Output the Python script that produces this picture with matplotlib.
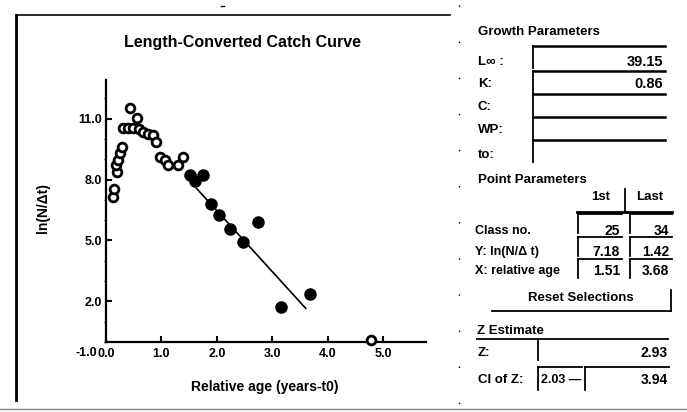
import matplotlib
matplotlib.use("Agg")
import matplotlib.pyplot as plt
from matplotlib.lines import Line2D

# ===============================
# DATA
# ===============================
# points not used in the regression (open circles)
open_age = [0.12, 0.15, 0.19, 0.18, 0.22, 0.26, 0.28, 0.31, 0.40, 0.49,
            0.43, 0.55, 0.60, 0.67, 0.76, 0.85, 0.91, 0.97, 1.06, 1.12,
            1.30, 1.39, 4.78]
open_lnn = [7.16, 7.54, 8.39, 8.72, 8.97, 9.30, 9.62, 10.53, 10.53, 10.53,
            11.51, 11.05, 10.49, 10.33, 10.23, 10.20, 9.87, 9.13, 8.97, 8.72,
            8.72, 9.13, 0.08]

# selected points, class 25..34 (filled circles)
sel_age = [1.51, 1.60, 1.75, 1.90, 2.04, 2.23, 2.47, 2.74, 3.15, 3.68]
sel_lnn = [8.23, 7.95, 8.23, 6.80, 6.24, 5.55, 4.94, 5.93, 1.74, 2.36]

# regression line end points
fit_age = [1.63, 3.60]
fit_lnn = [7.57, 1.66]

x_ticks = [0, 1, 2, 3, 4, 5]
x_ticklabels = ["0.0", "1.0", "2.0", "3.0", "4.0", "5.0"]
y_ticks = [2, 5, 8, 11]
y_ticklabels = ["2.0", "5.0", "8.0", "11.0"]
y_bottom_label = "-1.0"

# side panel values
growth_labels = ["L\u221e :", "K:", "C:", "WP:", "to:"]
growth_values = ["39.15", "0.86", "", "", ""]
point_labels = ["Class no.", "Y: ln(N/\u0394 t)", "X: relative age"]
first_values = ["25", "7.18", "1.51"]
last_values = ["34", "1.42", "3.68"]
z_value = "2.93"
ci_low = "2.03"
ci_high = "3.94"

FONT = "Liberation Sans"
W, H = 687, 412


def fx(x):
    return x / W


def fy(y):
    return 1 - y / H


def hline(fig, x0, x1, y, lw=1.5, color="black", **kw):
    fig.add_artist(Line2D([fx(x0), fx(x1)], [fy(y), fy(y)], lw=lw, color=color, **kw))


def vline(fig, x, y0, y1, lw=1.5, color="black", **kw):
    fig.add_artist(Line2D([fx(x), fx(x)], [fy(y0), fy(y1)], lw=lw, color=color, **kw))


def txt(fig, x, y, s, size=9, ha="left", **kw):
    fig.text(fx(x), fy(y), s, fontsize=size, ha=ha, va="center",
             family=FONT, fontweight="bold", **kw)


fig = plt.figure(figsize=(6.87, 4.12), dpi=100)

# ===============================
# CATCH CURVE PLOT
# ===============================
ax = fig.add_axes([fx(106), fy(362.3), fx(426) - fx(106), (362.3 - 80) / H])
ax.set_xlim(0, 5.77)
ax.set_ylim(-1, 12.9)

ax.plot(fit_age, fit_lnn, color="black", lw=1.2, zorder=2)
ax.plot(open_age, open_lnn, "o", mfc="white", mec="black", ms=6.3, mew=2,
        zorder=3, clip_on=False)
ax.plot(sel_age, sel_lnn, "o", color="black", ms=8, zorder=3)

for side in ["top", "right"]:
    ax.spines[side].set_visible(False)
ax.spines["left"].set_bounds(0, 12.9)
ax.spines["left"].set_linewidth(1.6)
ax.spines["bottom"].set_position(("data", 0))
ax.spines["bottom"].set_linewidth(1.6)

ax.set_xticks(x_ticks)
ax.set_xticklabels(x_ticklabels)
ax.set_yticks(y_ticks)
ax.set_yticklabels(y_ticklabels)
ax.tick_params(axis="both", direction="in", length=4, width=1.5, pad=3,
               labelsize=9)
ax.tick_params(axis="x", pad=4)
ax.set_yticks(range(0, 13), minor=True)
ax.tick_params(axis="y", which="minor", direction="out", length=1.5, width=1)
for lab in ax.get_xticklabels() + ax.get_yticklabels():
    lab.set_family(FONT)
    lab.set_fontweight("bold")

# the bottom y label sits at the x axis, just left of the 0.0 label
ax.annotate(y_bottom_label, xy=(0, 0), xytext=(-6.5, -8), textcoords="offset points",
            ha="right", va="center", fontsize=9, family=FONT, fontweight="bold")

ax.set_xlabel("Relative age (years-t0)", fontsize=10, family=FONT, fontweight="bold")
ax.xaxis.set_label_coords((265 - 106) / 320, (362.3 - 380) / 282.3)
ax.set_ylabel("ln(N/\u0394t)", fontsize=10, family=FONT, fontweight="bold")
ax.yaxis.set_label_coords((50 - 106) / 320, (362.3 - 208) / 282.3)

txt(fig, 243, 43, "Length-Converted Catch Curve", size=11.5, ha="center")

# panel frame around the plot
hline(fig, 16, 450, 15, lw=1.2)
vline(fig, 16, 15, 400, lw=2)
hline(fig, 0, 687, 409, lw=1, color="#888888")
vline(fig, 459, 5, 405, lw=1, color="black", linestyle=(0, (1, 25)))
hline(fig, 221, 224, 6, lw=1)

# ===============================
# SIDE PANEL
# ===============================
txt(fig, 478, 32, "Growth Parameters", size=9.5)
row_y = [62, 84, 107, 130, 155]
box_top = [46, 70.5, 94, 117, 140]
for lab, val, y, top in zip(growth_labels, growth_values, row_y, box_top):
    txt(fig, 478, y, lab, size=9.5)
    hline(fig, 533, 665, top, lw=1.8)
    vline(fig, 533, top, top + 22, lw=1.3)
    if val:
        txt(fig, 663, y, val, size=10.5, ha="right")

txt(fig, 478, 180, "Point Parameters", size=9.5)
txt(fig, 601, 197, "1st", size=9.5, ha="center")
txt(fig, 650, 197, "Last", size=9.5, ha="center")
vline(fig, 625, 189, 212, lw=1.3)
hline(fig, 577, 672, 212, lw=2)

pt_y = [231, 252, 271]
pt_top = [214, 237, 259]
for lab, v1, v2, y, top in zip(point_labels, first_values, last_values, pt_y, pt_top):
    txt(fig, 475, y, lab, size=9)
    vline(fig, 578, top, top + 19, lw=1.3)
    hline(fig, 578, 622, top, lw=1.3)
    txt(fig, 620, y, v1, size=10, ha="right")
    vline(fig, 630, top, top + 19, lw=1.3)
    hline(fig, 630, 672, top, lw=1.3)
    txt(fig, 669, y, v2, size=10, ha="right")

# reset button
txt(fig, 581, 298, "Reset Selections", size=9.5, ha="center")
hline(fig, 492, 671, 311, lw=1.3)
vline(fig, 671, 290, 311, lw=1.3)

# Z estimate
txt(fig, 477, 331, "Z Estimate", size=9.5)
hline(fig, 477, 668, 339, lw=1.3)
vline(fig, 538, 339, 360, lw=1.3)
txt(fig, 478, 353, "Z:", size=9.5)
txt(fig, 668, 353, z_value, size=10, ha="right")

txt(fig, 478, 380, "CI of Z:", size=9.5)
vline(fig, 538, 367, 390, lw=1.3)
hline(fig, 538, 582, 367, lw=1.3)
txt(fig, 581, 380, ci_low + " \u2014", size=9, ha="right")
vline(fig, 585, 367, 390, lw=1.3)
hline(fig, 585, 669, 367, lw=1.3)
txt(fig, 668, 380, ci_high, size=10, ha="right")

fig.savefig("out.png", dpi=100)
